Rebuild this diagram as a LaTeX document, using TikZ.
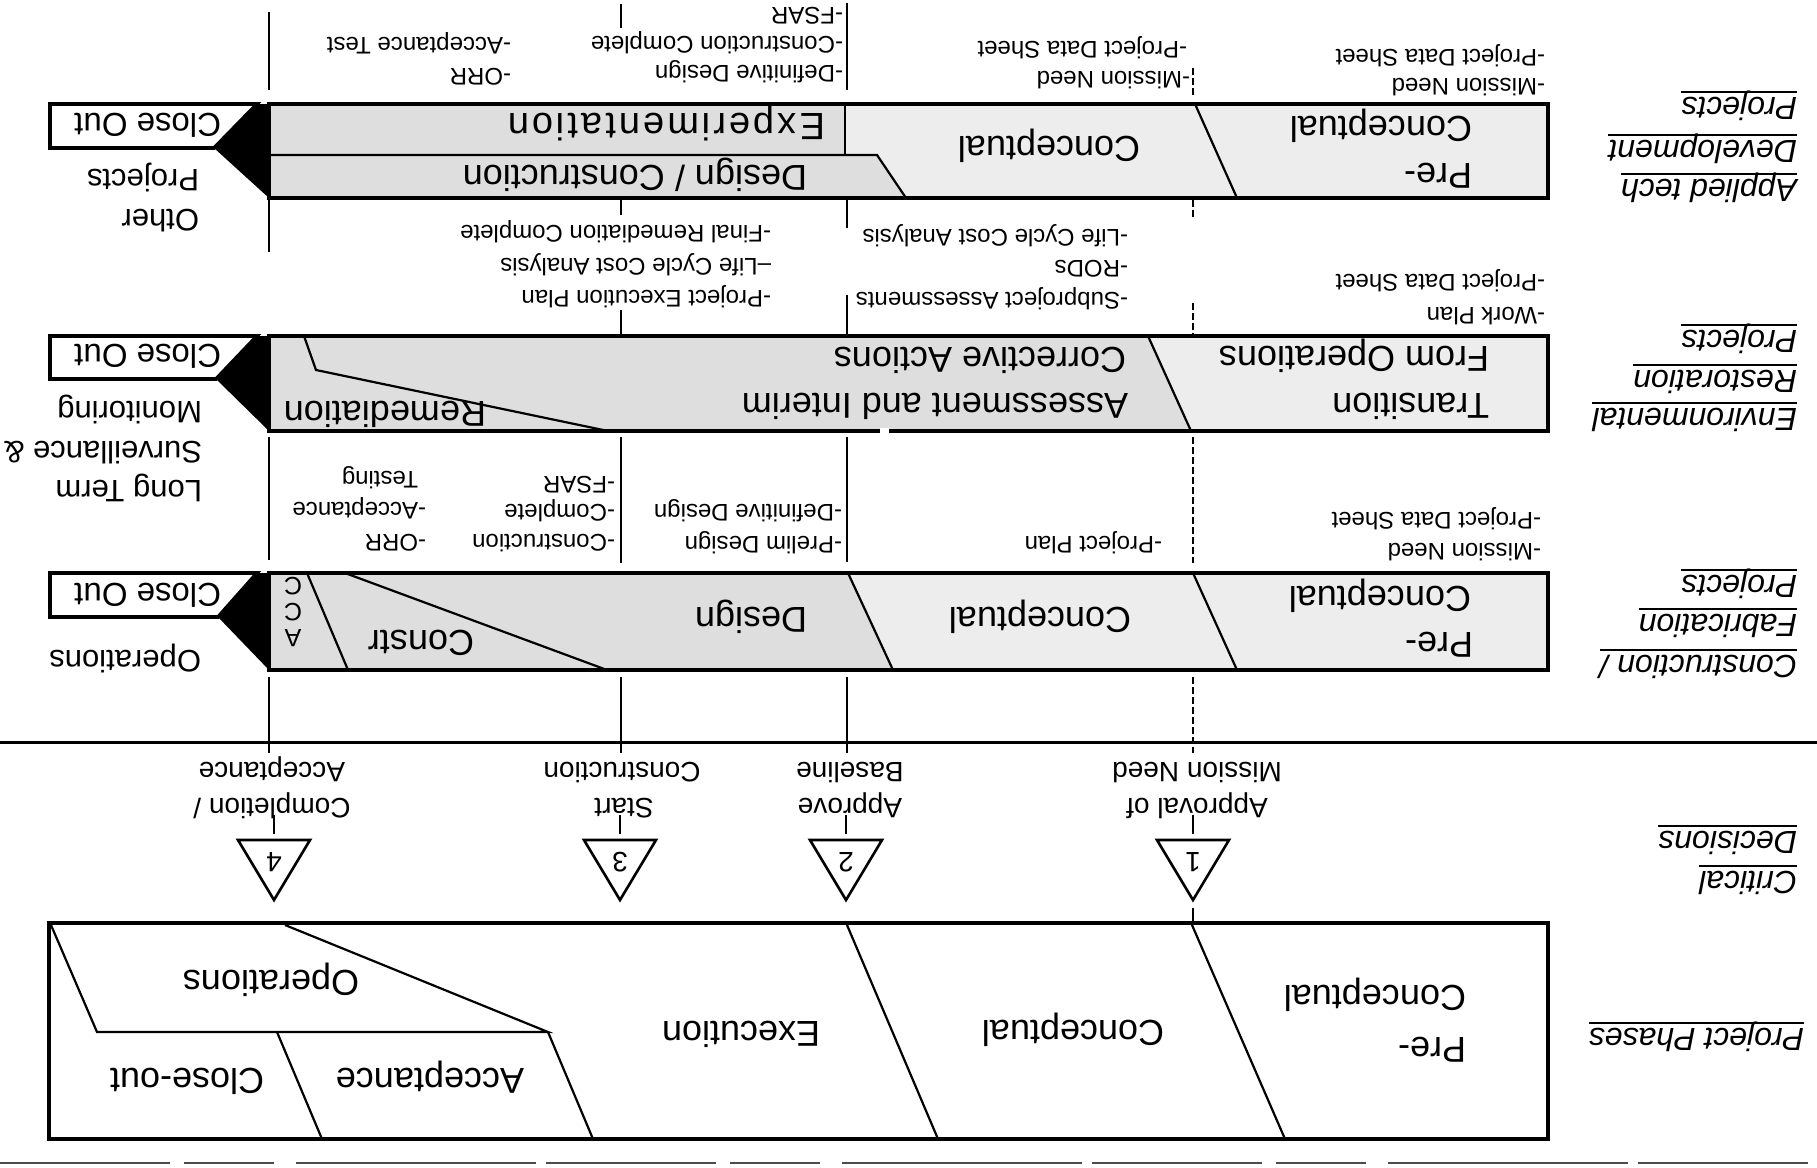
\documentclass[tikz,border=0pt]{standalone}
\usepackage{fontspec}
\setmainfont{Liberation Sans}
\newcommand\ulx[1]{\setbox0\hbox{#1}\rlap{\rule[-6.5pt]{\wd0}{1.8pt}}\box0}
\tikzset{
  rt/.style={rotate=180, inner sep=0pt, outer sep=0pt},
  note/.style={rt, anchor=west, font=\fontsize{24}{28}\selectfont, text height=17.2pt, text depth=0pt},
  btxt/.style={rt, font=\fontsize{36}{43}\selectfont, text height=25.8pt, text depth=0pt},
  bleft/.style={btxt, anchor=west},
  mlab/.style={rt, font=\fontsize{28}{34}\selectfont, text height=20pt, text depth=0pt},
  olab/.style={rt, anchor=west, font=\fontsize{31}{37}\selectfont, text height=22.2pt, text depth=0pt},
  clab/.style={rt, anchor=west, font=\fontsize{33}{40}\selectfont, text height=23.6pt, text depth=0pt},
  acclab/.style={rt, font=\fontsize{25}{28}\selectfont, text height=17.5pt, text depth=0pt},
  side/.style={rt, anchor=west, font=\fontsize{32}{38}\selectfont\itshape, text height=23pt, text depth=0pt},
  frameln/.style={line width=3.6pt},
  divln/.style={line width=2.2pt},
  msln/.style={line width=1.3pt},
  lite/.style={fill=black!7},
  midf/.style={fill=black!13},
}
\newcommand\nt[4]{\node[note] (#1) at (#2,#3) {#4};}
\begin{document}
\begin{tikzpicture}[x=1pt,y=-1pt]
\useasboundingbox (0,0) rectangle (1817,1167);
\fill[white] (0,0) rectangle (1817,1167);

% ---------- milestone vertical lines ----------
\coordinate (m4) at (269,0);
\coordinate (m3) at (621,0);
\coordinate (m2) at (847,0);
\coordinate (m1) at (1193,0);
\draw[msln] (269,12) -- (269,90)  (269,200) -- (269,252)  (269,437) -- (269,560)  (269,677) -- (269,753);
\draw[msln] (621,4) -- (621,28)  (621,200) -- (621,215)  (621,310) -- (621,335)  (621,437) -- (621,563)  (621,677) -- (621,753);
\draw[msln] (847,3) -- (847,90)  (847,200) -- (847,228)  (847,295) -- (847,335)  (847,437) -- (847,562)  (847,677) -- (847,753);
\draw[msln, dash pattern=on 7pt off 3pt] (1193,68) -- (1193,95)  (1193,200) -- (1193,220)  (1193,303) -- (1193,335)  (1193,437) -- (1193,563)  (1193,677) -- (1193,753);

% ---------- Applied tech box ----------
\fill[lite] (269,104) rectangle (1548,198);
\fill[midf] (269,104) -- (845,104) -- (845,155) -- (877,155) -- (906,198) -- (269,198) -- cycle;
\draw[divln] (845,104) -- (845,155);
\draw[divln] (269,155) -- (877,155) -- (906,198);
\draw[divln] (1195,104) -- (1237,198);
\draw[frameln] (269,104) rectangle (1548,198);
\fill (257,104) -- (269,104) -- (269,198) -- (214,148) -- cycle;
\draw[frameln, fill=white] (50,104) -- (257,104) -- (214,148) -- (50,148) -- cycle;

% ---------- Environmental box ----------
\fill[lite] (269,336) rectangle (1548,431);
\fill[midf] (269,336) -- (1148,336) -- (1191,431) -- (269,431) -- cycle;
\draw[divln] (1148,336) -- (1191,431);
\draw[divln] (304,336) -- (316,370) -- (608,431);
\draw[frameln] (269,336) rectangle (1548,431);
\fill[white] (880,428) rectangle (889,435);
\fill (257,336) -- (269,336) -- (269,431) -- (216,379) -- cycle;
\draw[frameln, fill=white] (50,336) -- (257,336) -- (216,379) -- (50,379) -- cycle;

% ---------- Construction box ----------
\fill[lite] (269,573) rectangle (1548,670);
\fill[midf] (269,573) -- (848,573) -- (893,670) -- (269,670) -- cycle;
\draw[divln] (307,573) -- (348,670);
\draw[divln] (345,573) -- (607,670);
\draw[divln] (848,573) -- (893,670);
\draw[divln] (1193,573) -- (1237,670);
\draw[frameln] (269,573) rectangle (1548,670);
\fill (257,573) -- (269,573) -- (269,670) -- (218,617) -- cycle;
\draw[frameln, fill=white] (50,573) -- (257,573) -- (218,617) -- (50,617) -- cycle;

% ---------- separator ----------
\draw[line width=3pt] (0,742) -- (1817,742);

% ---------- critical decisions ----------
\foreach \x in {274, 620, 846, 1193}{
  \draw[line width=2.6pt, line join=miter] (\x-36,840) -- (\x+36,840) -- (\x,900) -- cycle;
  \draw[msln] (\x,815) -- (\x,834);
}
\draw[msln] (1193,908) -- (1193,922);
\node[mlab] (t4) at (274,862) {4};
\node[mlab] (t3) at (620,862) {3};
\node[mlab] (t2) at (846,862) {2};
\node[mlab] (t1) at (1193,862) {1};

\node[mlab] (d4a) at (272,772) {Acceptance};
\node[mlab] (d4b) at (272,808) {Completion /};
\node[mlab] (d3a) at (622,772) {Construction};
\node[mlab] (d3b) at (624,808) {Start};
\node[mlab] (d2a) at (850,772) {Baseline};
\node[mlab] (d2b) at (850,808) {Approve};
\node[mlab] (d1a) at (1197,772) {Mission Need};
\node[mlab] (d1b) at (1197,808) {Approval of};

% ---------- project phases box ----------
\draw[divln] (51,925) -- (97,1032) -- (548,1032) -- (285,925);
\draw[divln] (277,1032) -- (322,1139);
\draw[divln] (548,1032) -- (593,1139);
\draw[divln] (847,925) -- (938,1139);
\draw[divln] (1192,925) -- (1285,1139);
\draw[frameln] (49,923) rectangle (1548,1139);
\draw[line width=2pt, black!70, dash pattern=on 170pt off 14pt on 90pt off 22pt on 240pt off 10pt] (0,1163) -- (1817,1163);

% ---------- texts in boxes ----------
\node[bleft] (at1) at (1472,176) {Pre-};
\node[bleft] (at2) at (1472,129) {Conceptual};
\node[btxt]  (at3) at (1049,149) {Conceptual};
\node[bleft, font=\fontsize{38}{44}\selectfont] (at4) at (825,126) {\addfontfeature{LetterSpace=8}Experimentation};
\node[bleft] (at5) at (807,178) {Design / Construction};

\node[bleft] (er1) at (1489,406) {Transition};
\node[bleft] (er2) at (1489,359) {From Operations};
\node[bleft] (er3) at (1128,406) {Assessment and Interim};
\node[bleft] (er4) at (1126,360) {Corrective Actions};
\node[bleft] (er5) at (486,414) {Remediation};

\node[bleft] (cf1) at (1473,645) {Pre-};
\node[bleft] (cf2) at (1471,599) {Conceptual};
\node[btxt]  (cf3) at (1040,620) {Conceptual};
\node[btxt]  (cf4) at (751,620) {Design};
\node[btxt]  (cf5) at (421,643) {Constr};
\node[acclab] (acc1) at (293,638) {A};
\node[acclab] (acc2) at (293,612) {C};
\node[acclab] (acc3) at (293,586) {C};

\node[bleft] (pp1) at (1466,1050) {Pre-};
\node[bleft] (pp2) at (1466,998) {Conceptual};
\node[btxt]  (pp3) at (1073,1033) {Conceptual};
\node[btxt]  (pp4) at (741,1034) {Execution};
\node[btxt]  (pp5) at (271,983) {Operations};
\node[btxt]  (pp6) at (430,1081) {Acceptance};
\node[btxt]  (pp7) at (187,1081) {Close-out};

% ---------- close out and outside labels ----------
\node[clab] (co1) at (221,125) {Close Out};
\node[clab] (co2) at (221,356) {Close Out};
\node[clab] (co3) at (221,595) {Close Out};
\node[olab] (ot1) at (199,181) {Projects};
\node[olab] (ot2) at (199,221) {Other};
\node[olab] (lt1) at (202,413) {Monitoring};
\node[olab] (lt2) at (202,453) {Surveillance \&};
\node[olab] (lt3) at (202,492) {Long Term};
\node[olab] (op1) at (201,662) {Operations};

% ---------- side (row) labels ----------
\node[side] (s1) at (1797,191) {\ulx{Applied tech}};
\node[side] (s2) at (1797,152) {\ulx{Development}};
\node[side] (s3) at (1797,109) {\ulx{Projects}};
\node[side] (s4) at (1797,420) {\ulx{Environmental}};
\node[side] (s5) at (1797,382) {\ulx{Restoration}};
\node[side] (s6) at (1797,342) {\ulx{Projects}};
\node[side] (s7) at (1797,667) {\ulx{Construction /}};
\node[side] (s8) at (1797,626) {\ulx{Fabrication}};
\node[side] (s9) at (1797,587) {\ulx{Projects}};
\node[side] (s10) at (1797,883) {\ulx{Critical}};
\node[side] (s11) at (1797,843) {\ulx{Decisions}};
\node[side] (s12) at (1804,1040) {\ulx{Project Phases}};

% ---------- notes ----------
\nt{n1}{843}{16}{-FSAR}
\nt{n2}{843}{45}{-Construction Complete}
\nt{n3}{843}{74}{-Definitive Design}
\nt{n4}{511}{77}{-ORR}
\nt{n5}{511}{46}{-Acceptance Test}
\nt{n6}{1190}{80}{-Mission Need}
\nt{n7}{1187}{50}{-Project Data Sheet}
\nt{n8}{1545}{87}{-Mission Need}
\nt{n9}{1545}{58}{-Project Data Sheet}

\nt{n10}{771}{234}{-Final Remediation Complete}
\nt{n11}{771}{267}{--Life Cycle Cost Analysis}
\nt{n12}{771}{299}{-Project Execution Plan}
\nt{n13}{1128}{238}{-Life Cycle Cost Analysis}
\nt{n14}{1128}{269}{-RODs}
\nt{n15}{1128}{301}{-Subproject Assessments}
\nt{n16}{1545}{283}{-Project Data Sheet}
\nt{n17}{1545}{316}{-Work Plan}

\nt{n18}{615}{485}{-FSAR}
\nt{n19}{615}{513}{-Complete}
\nt{n20}{615}{543}{-Construction}
\nt{n21}{426}{543}{-ORR}
\nt{n22}{426}{511}{-Acceptance}
\nt{n23}{418}{480}{Testing}
\nt{n24}{842}{545}{-Prelim Design}
\nt{n25}{842}{513}{-Definitive Design}
\nt{n26}{1162}{545}{-Project Plan}
\nt{n27}{1541}{552}{-Mission Need}
\nt{n28}{1541}{521}{-Project Data Sheet}
\end{tikzpicture}
\end{document}
